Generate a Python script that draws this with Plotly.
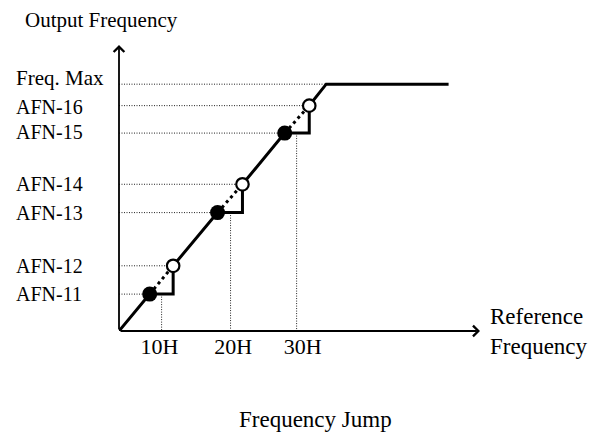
import plotly.graph_objects as go

# reference frequency (x) and output frequency (y) in relative units, 0..100
jump_lo_x = [8.5, 27.3, 45.9]     # filled points (start of jump)
jump_hi_x = [15.0, 34.2, 52.7]    # open points (end of jump)
jump_mid_x = [11.8, 30.9, 49.2]   # 10H / 20H / 30H
afn_lo = [12.9, 41.4, 69.2]       # AFN-11, AFN-13, AFN-15
afn_hi = [22.8, 51.3, 78.8]       # AFN-12, AFN-14, AFN-16
lo_names = ["AFN-11", "AFN-13", "AFN-15"]
hi_names = ["AFN-12", "AFN-14", "AFN-16"]
freq_max = 86.3
max_x = 57.4
end_x = 91.3
tick_pos = [11.2, 31.6, 50.9]
tick_text = ["10H", "20H", "30H"]

FONT = "Liberation Serif"
fig = go.Figure()

# horizontal guide lines from the y axis
gx, gy = [], []
for xl, yl, xh, yh in zip(jump_lo_x, afn_lo, jump_hi_x, afn_hi):
    gx += [0, xl, None, 0, xh, None]
    gy += [yl, yl, None, yh, yh, None]
gx += [0, max_x]
gy += [freq_max, freq_max]
# vertical guides down to the x axis
for xm, yl in zip(jump_mid_x, afn_lo):
    gx += [None, xm, xm]
    gy += [None, yl, 0]
fig.add_trace(go.Scatter(x=gx, y=gy, mode="lines",
                         line=dict(color="#222", width=1, dash="1px,1.5px")))

# skipped part of the ramp (dotted)
dx, dy = [], []
for xl, yl, xh, yh in zip(jump_lo_x, afn_lo, jump_hi_x, afn_hi):
    dx += [xl, xh, None]
    dy += [yl, yh, None]
fig.add_trace(go.Scatter(x=dx, y=dy, mode="lines",
                         line=dict(color="black", width=3, dash="3px,3.5px")))

# actual output: ramp with the jump steps
sx, sy = [0], [0]
for xl, yl, xh, yh in zip(jump_lo_x, afn_lo, jump_hi_x, afn_hi):
    sx += [xl, xh, xh]
    sy += [yl, yl, yh]
sx += [max_x, end_x]
sy += [freq_max, freq_max]
fig.add_trace(go.Scatter(x=sx, y=sy, mode="lines",
                         line=dict(color="black", width=3)))

fig.add_trace(go.Scatter(x=jump_lo_x, y=afn_lo, mode="markers",
                         marker=dict(size=15, color="black")))
fig.add_trace(go.Scatter(x=jump_hi_x, y=afn_hi, mode="markers",
                         marker=dict(size=12.5, color="white",
                                     line=dict(color="black", width=2.2))))

ann = []
# axes with arrows
for tip in [(100, 0), (0, 100)]:
    ann.append(dict(x=tip[0], y=tip[1], ax=0, ay=0, xref="x", yref="y",
                    axref="x", ayref="y", text="", showarrow=True, arrowhead=4,
                    arrowsize=1.15, arrowwidth=1.8, arrowcolor="black", standoff=0))

# level labels (small nudges so they sit like in the original)
labels = lo_names + hi_names + ["Freq. Max"]
levels = afn_lo + afn_hi + [freq_max]
nudge = {"AFN-15": 1, "AFN-16": -1, "Freq. Max": 6}
for name, lvl in zip(labels, levels):
    ann.append(dict(x=-0.292, y=lvl, xref="paper", yref="y", text=name,
                    showarrow=False, xanchor="left", yanchor="middle",
                    yshift=nudge.get(name, 0),
                    font=dict(size=21 if name == "Freq. Max" else 20)))

ann.append(dict(x=-0.266, y=1.087, xref="paper", yref="paper", text="Output Frequency",
                showarrow=False, xanchor="left", yanchor="middle", font=dict(size=21)))
ann.append(dict(x=1.022, y=0, xref="paper", yref="y", text="Reference<br>Frequency",
                showarrow=False, xanchor="left", yanchor="middle", align="left",
                font=dict(size=23)))
ann.append(dict(x=0.543, y=-0.31, xref="paper", yref="paper", text="Frequency Jump",
                showarrow=False, xanchor="center", yanchor="middle", font=dict(size=23)))

# the page adds an 8px body margin, so the figure is 8px smaller
fig.update_layout(
    width=592, height=432,
    margin=dict(l=111, r=120, t=37, b=109),
    plot_bgcolor="white", paper_bgcolor="white",
    showlegend=False,
    font=dict(family=FONT, color="black"),
    annotations=ann,
)
fig.update_xaxes(range=[0, 100], showgrid=False, zeroline=False, showline=False,
                 tickvals=tick_pos, ticktext=tick_text, ticks="",
                 tickfont=dict(size=22))
fig.update_yaxes(range=[0, 100], showgrid=False, zeroline=False, showline=False,
                 showticklabels=False)

fig.write_html("out.html")
